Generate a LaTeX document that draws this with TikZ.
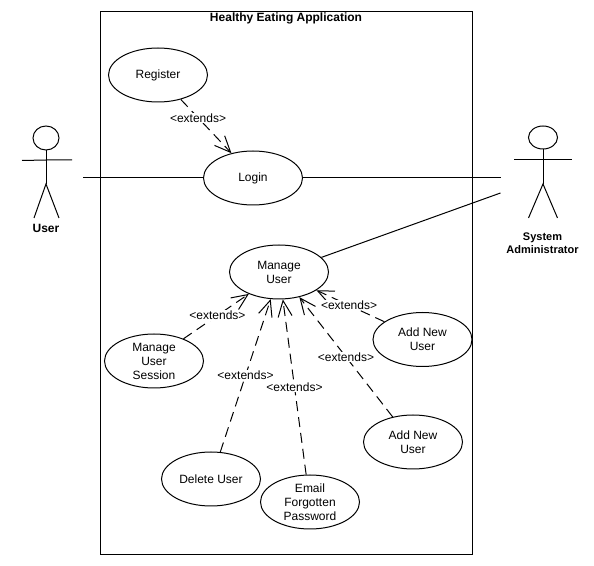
\documentclass[tikz,border=0pt]{standalone}
\usepackage{fontspec}
\setmainfont{Liberation Sans}
\usetikzlibrary{arrows.meta,shapes.geometric}

\begin{document}
\begin{tikzpicture}[x=0.75pt, y=-0.75pt, font=\fontsize{9}{10.5}\selectfont, line width=0.75pt,
    usecase/.style={draw, ellipse, inner sep=0pt, minimum width=74.25pt, minimum height=40.5pt, align=center},
    extendsline/.style={dashed, dash pattern=on 7.5pt off 4.5pt, -{Straight Barb[length=12pt, width=10.5pt]}},
    extendslabel/.style={fill=white, inner sep=0.5pt},
    actorlabel/.style={font=\fontsize{9}{10.5}\selectfont\bfseries, align=center},
    head/.style={draw, ellipse, inner sep=0pt}]
    \useasboundingbox (0,0) rectangle (594,566);

    % system boundary
    \draw (100.5,11.5) rectangle (472,555);
    \node[actorlabel] (title) at (286,18) {Healthy Eating Application};

    % use cases
    \node[usecase] (register) at (158,75) {Register};
    \node[usecase] (login) at (253,178) {Login};
    \node[usecase] (manage) at (279,272) {Manage\\User};
    \node[usecase] (session) at (154,361) {Manage\\User\\Session};
    \node[usecase] (addone) at (422.5,339.5) {Add New\\User};
    \node[usecase] (addtwo) at (413,442) {Add New\\User};
    \node[usecase] (delete) at (211,479) {Delete User};
    \node[usecase] (email) at (310,502) {Email\\Forgotten\\Password};

    % user actor
    \node[head, minimum width=19.5pt, minimum height=18pt] (userhead) at (46,138) {};
    \coordinate (userhip) at (46,184);
    \draw (userhead) -- (userhip);
    \draw (22,160.5) -- (46,160) -- (72,160);
    \draw (34,218) -- (userhip) -- (59,218);
    \node[actorlabel] (userlabel) at (46,228.5) {User};
    \coordinate (userhand) at (83,178);

    % administrator actor
    \node[head, minimum width=21.75pt, minimum height=17.25pt] (adminhead) at (543,137.5) {};
    \coordinate (adminhip) at (543,184);
    \draw (adminhead) -- (adminhip);
    \draw (514,160) -- (572,160);
    \draw (528.5,218) -- (adminhip) -- (557.5,218);
    \node[actorlabel, font=\fontsize{8.25}{10}\selectfont\bfseries] (adminlabel) at (542.5,243) {System\\Administrator};
    \coordinate (adminhandone) at (500.5,178);
    \coordinate (adminhandtwo) at (500.5,193);

    % associations
    \draw (userhand) -- (login);
    \draw (login) -- (adminhandone);
    \draw (manage.19) -- (adminhandtwo);

    % extends
    \draw[extendsline] (register.-47) -- node[extendslabel, pos=0.34] (extregister) {<extends>} (login.131.5);
    \foreach \from/\fromangle/\toangle/\labelpos in {session/37/-144.7/0.52, delete/71.6/-107.2/0.5,
      email/98/-82/0.5, addtwo/129/-51.5/0.5, addone/155/-26.6/0.52} {
      \draw[extendsline] (\from.\fromangle) -- node[extendslabel, pos=\labelpos] (ext\from) {<extends>} (manage.\toangle);
    }
\end{tikzpicture}
\end{document}
